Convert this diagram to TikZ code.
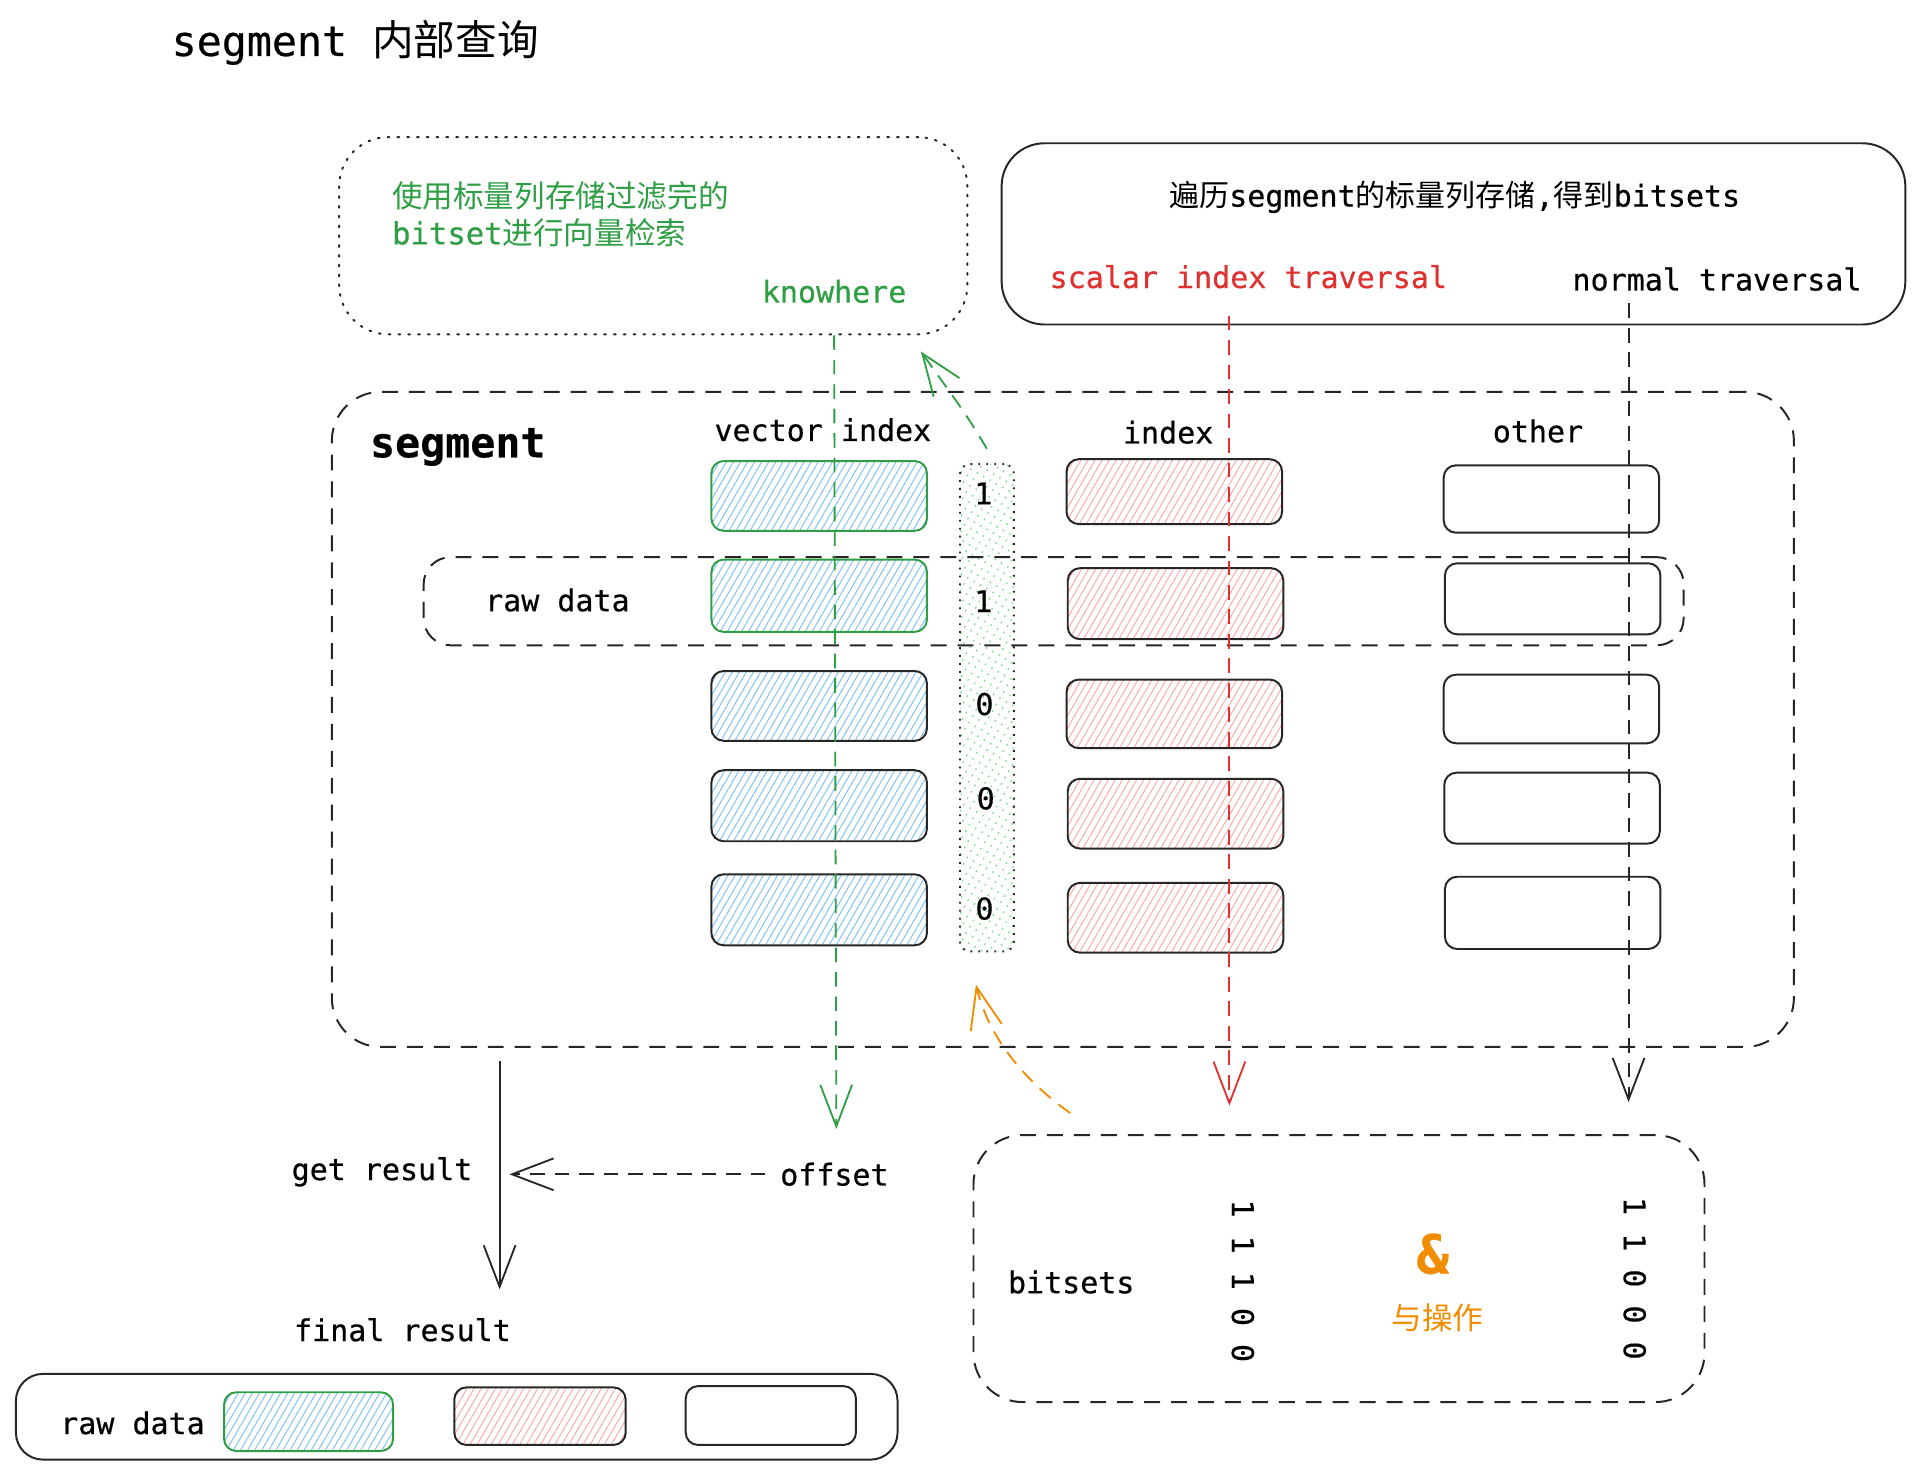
\documentclass[tikz,border=0pt]{standalone}
\usepackage{fontspec}
\setmainfont{DejaVu Sans Mono}[FakeBold=0.5]
\newfontfamily\cjk{Noto Sans CJK SC}
\usetikzlibrary{arrows.meta,patterns.meta}
\definecolor{exgreen}{HTML}{2F9E44}
\definecolor{exred}{HTML}{E03131}
\definecolor{exorange}{HTML}{F08C00}
\definecolor{hatchblue}{HTML}{7FC0F5}
\definecolor{hatchred}{HTML}{FFA8A8}
\definecolor{hatchgreen}{HTML}{7EDB8C}

\begin{document}
\begin{tikzpicture}[x=1pt,y=-1pt]
\tikzstyle{lbl}=[inner sep=0pt, font=\fontsize{24.5}{30}\selectfont]
\tikzstyle{cell}=[rectangle, rounded corners=10pt, draw=black!85, line width=1.6pt, minimum width=176pt, minimum height=57pt]
\tikzstyle{vec}=[cell, pattern={Lines[angle=60,distance=5pt,line width=0.8pt]}, pattern color=hatchblue]
\tikzstyle{vecsel}=[vec, draw=exgreen]
\tikzstyle{idx}=[cell, pattern={Lines[angle=60,distance=5pt,line width=0.8pt]}, pattern color=hatchred]
\tikzstyle{frame}=[rectangle, draw=black!85, rounded corners=40pt, line width=1.6pt, dash pattern=on 13pt off 9pt]
\tikzstyle{dashline}=[dash pattern=on 12pt off 8pt]
\tikzstyle{connect}=[-{Straight Barb[length=34pt,width=26pt]}, line width=1.5pt]
  \useasboundingbox (0,0) rectangle (1568,1204.6);
  \node[lbl, anchor=west, font=\fontsize{34}{40}\selectfont] (title) at (140,35) {segment {\cjk 内部查询}};
  % knowhere box
  \node[frame, rounded corners=40pt, dash pattern=on 1.5pt off 6.5pt, line cap=round, minimum width=513pt, minimum height=161pt] (filterbox) at (533.5,192.5) {};
  \node[lbl, anchor=west, align=left, text=exgreen, font=\fontsize{25}{30}\selectfont] (filtertxt) at (320,175) {{\cjk 使用标量列存储过滤完的}\\bitset{\cjk 进行向量检索}};
  \node[lbl, anchor=west, text=exgreen] (kw) at (622,238) {knowhere};
  % scan box
  \node[rectangle, draw=black!85, rounded corners=35pt, line width=1.6pt, minimum width=738pt, minimum height=148pt] (scanbox) at (1187,191) {};
  \node[lbl] (scantxt) at (1188,161) {{\cjk 遍历}segment{\cjk 的标量列存储},{\cjk 得到}bitsets};
  \node[lbl, anchor=west, text=exred] (scal) at (857,226) {scalar index traversal};
  \node[lbl, anchor=west] (norm) at (1284,228) {normal traversal};
  % segment
  \node[frame, minimum width=1194pt, minimum height=535pt] (seg) at (868,587.5) {};
  \node[lbl, anchor=west, font=\bfseries\fontsize{34}{40}\selectfont] (segtxt) at (302,365) {segment};
  \node[lbl] (vechead) at (672,351) {vector index};
  \node[lbl] (idxhead) at (954,353) {index};
  \node[lbl] (othhead) at (1256,352) {other};
  \node[vecsel] (v1) at (669,405) {};
  \node[vecsel, minimum height=59pt] (v2) at (669,486.5) {};
  \node[vec] (v3) at (669,576.5) {};
  \node[vec, minimum height=58pt] (v4) at (669,658) {};
  \node[vec, minimum height=58pt] (v5) at (669,743) {};
  \node[idx, minimum height=53pt] (i1) at (959,401.5) {};
  \node[idx, minimum height=58pt] (i2) at (960,493) {};
  \node[idx, minimum height=56pt] (i3) at (959,583) {};
  \node[idx] (i4) at (960,664.5) {};
  \node[idx] (i5) at (960,749.5) {};
  \node[cell, minimum height=55pt] (o1) at (1267,407.5) {};
  \node[cell, minimum height=58pt] (o2) at (1268,489) {};
  \node[cell, minimum height=56pt] (o3) at (1267,579) {};
  \node[cell, minimum height=58pt] (o4) at (1267.5,660) {};
  \node[cell, minimum height=59pt] (o5) at (1268,745.5) {};
  \node[rectangle, draw=black!85, rounded corners=8pt, dash pattern=on 1.5pt off 5pt, line width=1.6pt, minimum width=44pt, minimum height=398pt, pattern={Lines[angle=60,distance=6pt,line width=1pt]}, pattern color=hatchgreen] (bits) at (806,578) {};
  \node[lbl] (b1) at (803,403) {1};
  \node[lbl] (b2) at (803,491) {1};
  \node[lbl] (b3) at (804,575) {0};
  \node[lbl] (b4) at (805,652) {0};
  \node[lbl] (b5) at (804,742) {0};
  \node[frame, rounded corners=22pt, minimum width=1029pt, minimum height=72pt] (rawrow) at (860.5,491) {};
  \node[lbl, anchor=west] (rawtxt) at (396,490) {raw data};
  % bitsets
  \node[frame, minimum width=597pt, minimum height=218pt] (setbox) at (1093.5,1036) {};
  \node[lbl, anchor=west] (settxt) at (823,1047) {bitsets};
  \node[lbl, rotate=-90] (setA) at (1015,1046) {1 1 1 0 0};
  \node[lbl, rotate=-90] (setB) at (1335,1044) {1 1 0 0 0};
  \node[lbl, text=exorange, font=\bfseries\fontsize{44}{50}\selectfont] (andop) at (1170,1024) {\&};
  \node[lbl, text=exorange, font=\cjk\fontsize{25}{30}\selectfont] (andtxt) at (1174,1076) {与操作};
  % result
  \node[lbl, anchor=west] (gettxt) at (238,957) {get result};
  \node[lbl, anchor=west] (offset) at (637,959) {offset};
  \node[lbl, anchor=west] (finaltxt) at (240,1086) {final result};
  \node[rectangle, draw=black!85, rounded corners=22pt, line width=1.6pt, minimum width=720pt, minimum height=70pt] (finalbox) at (373,1157) {};
  \node[lbl, anchor=west] (finalraw) at (49,1162) {raw data};
  \node[vecsel, minimum width=138pt, minimum height=48pt] (fv) at (252,1161) {};
  \node[idx, minimum width=140pt, minimum height=47pt] (fi) at (441,1156.5) {};
  \node[cell, minimum width=139pt, minimum height=48pt] (fo) at (629.5,1156) {};
  % connectors
  \coordinate (kwtip) at (683,922);
  \coordinate (redtip) at (1004,903);
  \coordinate (normtip) at (1330,900);
  \coordinate (bitup) at (752,287);
  \coordinate (orstart) at (874,909);
  \coordinate (ortip) at (797,804);
  \coordinate (getend) at (408,1053);
  \coordinate (offtip) at (416,959);
  \draw[connect, exgreen, dashline] (kw.south |- filterbox.south) -- (kwtip);
  \draw[connect, exred, dashline, shorten <=22pt] (scal.south -| redtip) -- (redtip);
  \draw[connect, black!85, dashline, shorten <=10pt] (norm.south -| normtip) -- (normtip);
  \draw[connect, exgreen, dashline] ([yshift=12pt]bits.north) .. controls (790,340) .. (bitup);
  \draw[connect, exorange, dashline] (orstart) .. controls (840,885) and (808,850) .. (ortip);
  \draw[connect, black!85, shorten <=11pt] (seg.south -| getend) -- (getend);
  \draw[connect, black!85, dashline, shorten <=12pt] (offset.west) -- (offtip);
\end{tikzpicture}
\end{document}
